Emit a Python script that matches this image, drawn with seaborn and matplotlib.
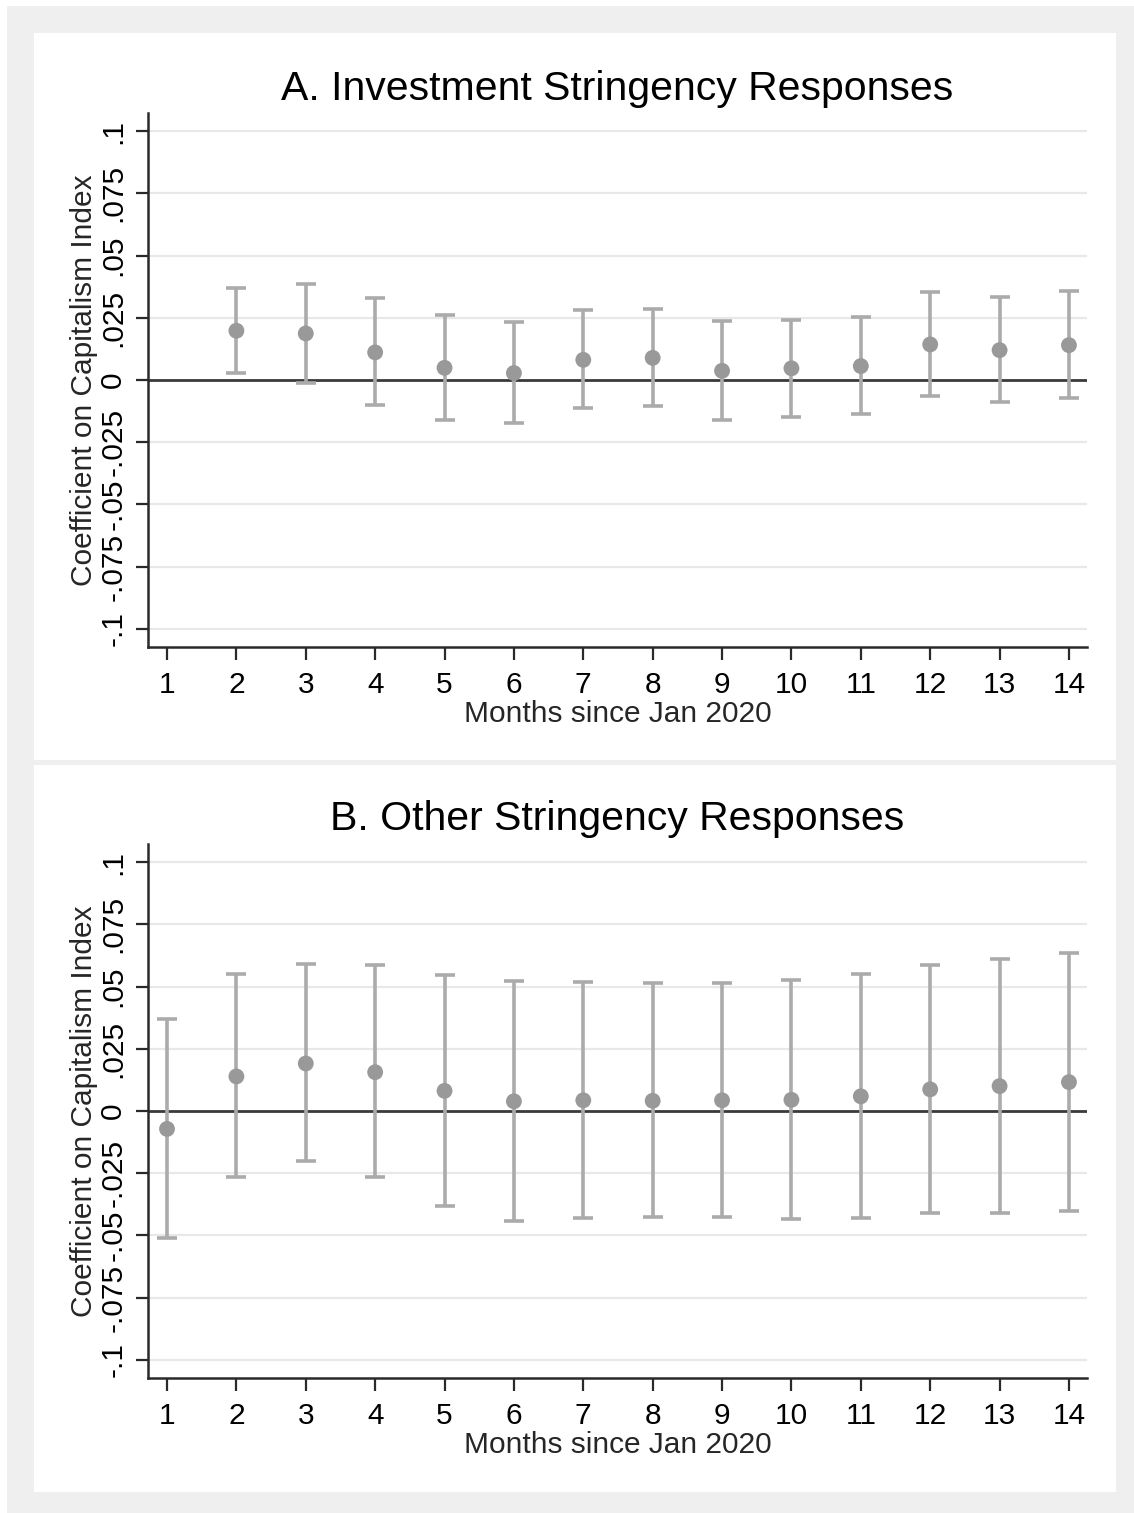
import numpy as np
import pandas as pd
import matplotlib
matplotlib.use("Agg")
import matplotlib.pyplot as plt
from matplotlib.patches import Rectangle
import seaborn as sns

# Event-study coefficients by month since Jan 2020
months = list(range(1, 15))

# Panel A: investment stringency responses (month 1 is the omitted base month)
inv_coef = [np.nan, 0.0198, 0.0187, 0.0111, 0.0049, 0.0028, 0.0081,
            0.0089, 0.0037, 0.0047, 0.0056, 0.0143, 0.0120, 0.0140]
inv_hi = [np.nan, 0.0370, 0.0386, 0.0328, 0.0263, 0.0233, 0.0282,
          0.0287, 0.0237, 0.0243, 0.0253, 0.0352, 0.0332, 0.0357]
inv_lo = [np.nan, 0.0029, -0.0011, -0.0102, -0.0159, -0.0172, -0.0112,
          -0.0104, -0.0160, -0.0147, -0.0138, -0.0064, -0.0087, -0.0073]

# Panel B: other stringency responses
oth_coef = [-0.0072, 0.0139, 0.0191, 0.0156, 0.0081, 0.0039, 0.0043,
            0.0041, 0.0043, 0.0045, 0.0059, 0.0087, 0.0100, 0.0116]
oth_hi = [0.0370, 0.0551, 0.0592, 0.0585, 0.0548, 0.0523, 0.0520,
          0.0513, 0.0516, 0.0527, 0.0552, 0.0588, 0.0611, 0.0634]
oth_lo = [-0.0512, -0.0267, -0.0202, -0.0267, -0.0380, -0.0441, -0.0428,
          -0.0425, -0.0425, -0.0433, -0.0432, -0.0411, -0.0408, -0.0400]

panel_titles = ["A. Investment Stringency Responses", "B. Other Stringency Responses"]
y_ticks = [-0.1, -0.075, -0.05, -0.025, 0, 0.025, 0.05, 0.075, 0.1]
y_ticklabels = ["-.1", "-.075", "-.05", "-.025", "0", ".025", ".05", ".075", ".1"]
x_label = "Months since Jan 2020"
y_label = "Coefficient on Capitalism Index"

sns.set_theme(style="white")
plt.rcParams["font.family"] = ["Liberation Sans", "DejaVu Sans"]

W, H = 1134, 1513
fig = plt.figure(figsize=(W / 100, H / 100), dpi=100, facecolor="white")


def px_rect(x0, y0, x1, y1):
    """Convert pixel box (top-left origin) to figure-fraction rect."""
    return [x0 / W, 1 - y1 / H, (x1 - x0) / W, (y1 - y0) / H]


# Outer grey frame and two white graph regions
fig.patches.append(Rectangle((7 / W, 0), 1 - 7 / W, 1 - 6 / H, transform=fig.transFigure,
                             facecolor="#efefef", edgecolor="none", zorder=-3))
for (y0, y1) in [(33, 760), (765, 1492)]:
    fig.patches.append(Rectangle((34 / W, 1 - y1 / H), (1116 - 34) / W, (y1 - y0) / H,
                                 transform=fig.transFigure, facecolor="white",
                                 edgecolor="none", zorder=-2))

panels = [
    (inv_coef, inv_lo, inv_hi, (113, 647), 88),
    (oth_coef, oth_lo, oth_hi, (844, 1378), 818),
]

err_color = "#ababab"
pt_color = "#999999"
FS = 21.5

for i, (coef, lo, hi, (top, bot), title_y) in enumerate(panels):
    ax = fig.add_axes(px_rect(148, top, 1087, bot))
    df = pd.DataFrame({"month": months, "coef": coef, "lo": lo, "hi": hi}).dropna()

    ax.set_xlim(0.726, 14.26)
    ax.set_ylim(-0.1073, 0.1073)

    # light horizontal grid at each tick, dark reference line at zero
    for t in y_ticks:
        if t != 0:
            ax.axhline(t, color="#e8e8e8", lw=1.6, zorder=0)
    ax.axhline(0, color="#3a3a3a", lw=2.0, zorder=1)

    ax.errorbar(df["month"], df["coef"],
                yerr=[df["coef"] - df["lo"], df["hi"] - df["coef"]],
                fmt="none", ecolor=err_color, elinewidth=2.6, capsize=7,
                capthick=2.6, zorder=2)
    sns.scatterplot(data=df, x="month", y="coef", ax=ax, color=pt_color, s=130,
                    edgecolor="none", linewidth=0, zorder=3, legend=False)

    ax.set_xticks(months)
    ax.set_xticklabels([str(m) for m in months], fontsize=FS)
    ax.set_yticks(y_ticks)
    ax.set_yticklabels(y_ticklabels, fontsize=FS, rotation=90, va="center")
    ax.set_xlabel(x_label, fontsize=FS, labelpad=1)
    ax.set_ylabel(y_label, fontsize=FS, labelpad=1)

    for side in ["top", "right"]:
        ax.spines[side].set_visible(False)
    for side in ["left", "bottom"]:
        ax.spines[side].set_color("#2a2a2a")
        ax.spines[side].set_linewidth(1.8)
    ax.tick_params(axis="both", which="major", direction="out", length=9, width=1.6,
                   color="#2a2a2a", labelcolor="black", left=True, bottom=True)
    ax.tick_params(axis="x", pad=8)
    ax.tick_params(axis="y", pad=6)
    ax.set_facecolor("none")

    fig.text(617 / W, 1 - (title_y + 1) / H, panel_titles[i], fontsize=29.5, ha="center",
             va="center", color="black")

fig.savefig("out.png", dpi=100, facecolor="white")
